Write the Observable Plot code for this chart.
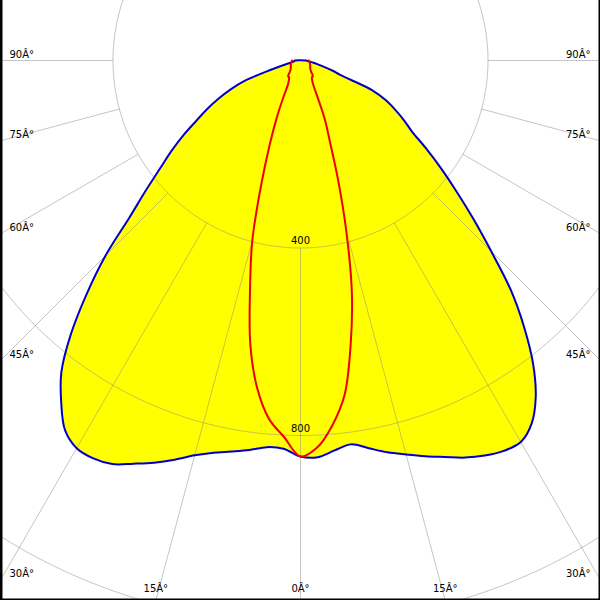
<!DOCTYPE html>
<html>
<head>
<meta charset="utf-8">
<script src="https://cdn.jsdelivr.net/npm/d3@7"></script>
<script src="https://cdn.jsdelivr.net/npm/@observablehq/plot@0.6"></script>
<style>
  body { margin: 0; background: #fff; }
  #chart { width: 600px; height: 600px; overflow: hidden; }
</style>
</head>
<body>
<div id="chart"></div>
<script>
// Gamma angles (degrees from nadir; negative = left half of the diagram)
const angles = [
  -90, -87.5, -85, -82.5, -80, -77.5, -75, -72.5, -70, -67.5, -65, -62.5,
  -60, -57.5, -55, -52.5, -50, -47.5, -45, -42.5, -40, -37.5, -35, -32.5,
  -30, -27.5, -25, -22.5, -20, -17.5, -15, -12.5, -10, -7.5, -5, -2.5,
  0, 2.5, 5, 7.5, 10, 12.5, 15, 17.5, 20, 22.5, 25, 27.5,
  30, 32.5, 35, 37.5, 40, 42.5, 45, 47.5, 50, 52.5, 55, 57.5,
  60, 62.5, 65, 67.5, 70, 72.5, 75, 77.5, 80, 82.5, 85, 87.5, 90
];

// Luminous intensity (cd) – blue plane (filled yellow)
const planeBlue = [
  12, 13, 13, 14, 16, 22, 35, 66, 126, 162, 194, 225,
  256, 296, 336, 377, 430, 494, 588, 675, 762, 838, 890, 935,
  955, 957, 950, 931, 913, 893, 872, 857, 847, 838, 828, 829,
  845, 847, 835, 826, 840, 856, 870, 885, 900, 917, 930, 939,
  940, 918, 875, 815, 742, 664, 575, 500, 434, 378, 327, 282,
  255, 228, 201, 166, 90, 71, 52, 38, 28, 21, 17, 14, 12
];

// Luminous intensity (cd) – red plane
const planeRed = [
  18, 18, 19, 19, 20, 20, 21, 21, 22, 22, 23, 23,
  24, 25, 25, 26, 27, 29, 31, 34, 40, 43, 43, 45,
  50, 58, 86, 133, 194, 280, 397, 497, 616, 706, 768, 804,
  845, 826, 781, 720, 616, 506, 378, 266, 182, 135, 85, 60,
  50, 45, 43, 43, 40, 34, 31, 29, 27, 26, 25, 25,
  24, 23, 23, 22, 22, 21, 21, 20, 20, 19, 19, 18, 18
];

// Grid
const rings = [400, 800, 1200];
const ringLabels = ["400", "800"];
const rayAngles = [-90, -75, -60, -45, -30, -15, 0, 15, 30, 45, 60, 75, 90];
const rayLabels = ["90\u00C2\u00B0", "75\u00C2\u00B0", "60\u00C2\u00B0", "45\u00C2\u00B0", "30\u00C2\u00B0", "15\u00C2\u00B0", "0\u00C2\u00B0",
                   "15\u00C2\u00B0", "30\u00C2\u00B0", "45\u00C2\u00B0", "60\u00C2\u00B0", "75\u00C2\u00B0", "90\u00C2\u00B0"];

// Visible extent in cd units
const xMin = -640, xMax = 640, yTop = -128, yBottom = 1152;

const rad = d => d * Math.PI / 180;
const polar = (a, v) => ({x: v * Math.sin(rad(a)), y: v * Math.cos(rad(a))});

const bluePts = angles.map((a, i) => polar(a, planeBlue[i]));
const redPts = angles.map((a, i) => polar(a, planeRed[i]));

const circlePts = rings.flatMap(r =>
  d3.range(0, 361, 1).map(a => ({...polar(a, r), ring: r})));

const rayLinks = rayAngles.map(a => {
  const p1 = polar(a, rings[0]), p2 = polar(a, 1600);
  return {x1: p1.x, y1: p1.y, x2: p2.x, y2: p2.y};
});

// Where each ray reaches the frame edge
const labelPts = rayAngles.map((a, i) => {
  const t = Math.tan(rad(Math.abs(a)));
  const s = Math.sign(a);
  if (Math.abs(a) === 90 || xMax / t < yBottom) {
    const y = Math.abs(a) === 90 ? 0 : xMax / t;
    return {x: s < 0 ? xMin : xMax, y, text: rayLabels[i], side: s < 0 ? "left" : "right"};
  }
  return {x: yBottom * t * s, y: yBottom, text: rayLabels[i], side: "bottom"};
});

const ringLabelPts = ringLabels.map((t, i) => ({x: 0, y: rings[i], text: t}));

const gridStroke = "#8c8c8c";
const gridOpacity = 0.5;

const chart = Plot.plot({
  width: 600,
  height: 600,
  margin: 0,
  x: {domain: [xMin, xMax], axis: null},
  y: {domain: [yBottom, yTop], axis: null},
  style: {fontFamily: "DejaVu Sans", fontSize: "10px", background: "white", color: "black"},
  marks: [
    Plot.line(bluePts, {x: "x", y: "y", fill: "#ffff00", stroke: "none", curve: "catmull-rom-closed", clip: true}),
    Plot.line(circlePts, {x: "x", y: "y", z: "ring", stroke: gridStroke, strokeOpacity: gridOpacity, strokeWidth: 1, clip: true}),
    Plot.link(rayLinks, {x1: "x1", y1: "y1", x2: "x2", y2: "y2", stroke: gridStroke, strokeOpacity: gridOpacity, strokeWidth: 1, clip: true}),
    Plot.line(bluePts, {x: "x", y: "y", stroke: "#0000c8", strokeWidth: 2, curve: "catmull-rom-closed", clip: true}),
    Plot.line(redPts, {x: "x", y: "y", stroke: "#ee0000", strokeWidth: 2, curve: "catmull-rom", clip: true}),
    Plot.text(ringLabelPts, {x: "x", y: "y", text: "text", dy: -7, fill: "black"}),
    Plot.text(labelPts.filter(d => d.side === "left"), {x: "x", y: "y", text: "text", textAnchor: "start", dx: 9, dy: -6, fill: "black"}),
    Plot.text(labelPts.filter(d => d.side === "right"), {x: "x", y: "y", text: "text", textAnchor: "end", dx: -10, dy: -6, fill: "black"}),
    Plot.text(labelPts.filter(d => d.side === "bottom"), {x: "x", y: "y", text: "text", dy: -12, fill: "black"}),
    Plot.ruleX([xMin, xMax], {stroke: "black", strokeWidth: 4}),
    Plot.ruleY([yBottom], {stroke: "black", strokeWidth: 4})
  ]
});

document.getElementById("chart").appendChild(chart);
</script>
</body>
</html>
